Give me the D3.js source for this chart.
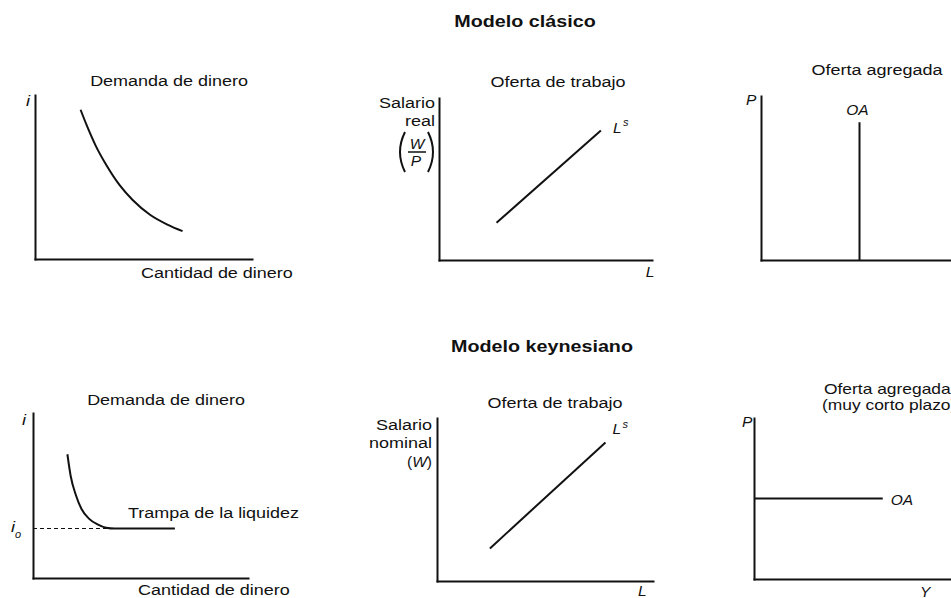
<!DOCTYPE html>
<html>
<head>
<meta charset="utf-8">
<script src="https://cdn.jsdelivr.net/npm/d3@7"></script>
<style>
  body { margin: 0; background: #fff; }
  svg { display: block; font-family: "Liberation Sans", Arial, Helvetica, sans-serif; }
</style>
</head>
<body>
<div id="chartContainer"></div>
<script>
// values, every panel runs 0-10 on both axes
const sectionTitles = ["Modelo clásico", "Modelo keynesiano"];
const panelTitles = ["Demanda  de dinero", "Oferta de trabajo", "Oferta agregada",
                     "Demanda  de dinero", "Oferta de trabajo", "Oferta agregada"];
const moneyDemandClassic = [[2.1,9.1],[2.4,8.1],[2.8,6.9],[3.3,5.7],[3.9,4.5],[4.5,3.6],[5.3,2.7],[6.1,2.1],[6.8,1.7]];
const laborSupplyClassic = [[2.7,2.3],[7.6,8.0]];
const aggSupplyClassic = [[4.95,0],[4.95,8.4]];
const moneyDemandKeynes = [[1.6,7.5],[1.75,6.2],[2.0,5.0],[2.25,4.2],[2.6,3.6],[3.0,3.25],[3.4,3.05],[3.8,3.0],[6.6,3.0]];
const liquidityTrap = [[0,3.0],[3.8,3.0]];
const laborSupplyKeynes = [[2.45,2.0],[7.8,8.5]];
const aggSupplyKeynes = [[0,5.0],[6.25,5.0]];

// where each little chart sits on the page
const panels = [
  {x0: 35,  x1: 252, y0: 259, y1: 95},
  {x0: 439, x1: 652, y0: 260, y1: 98},
  {x0: 761, x1: 960, y0: 260, y1: 96},
  {x0: 33,  x1: 248, y0: 578, y1: 413},
  {x0: 437, x1: 653, y0: 581, y1: 418},
  {x0: 754, x1: 960, y0: 579, y1: 418}
];

const svgWidth = 951;
const svgHeight = 598;
const stretch = 1.16;

const svg = d3.select("#chartContainer")
  .append("svg")
  .attr("width", svgWidth)
  .attr("height", svgHeight);

function label(x, y, txt, opts) {
  opts = opts || {};
  return svg.append("text")
    .attr("transform", `translate(${x},${y}) scale(${opts.sx || stretch},1)`)
    .attr("text-anchor", opts.anchor || "start")
    .attr("font-size", opts.size || 15.5)
    .attr("font-style", opts.italic ? "italic" : "normal")
    .attr("font-weight", opts.bold ? "bold" : "normal")
    .attr("fill", "#111")
    .text(txt);
}

function makePanel(p) {
  const x = d3.scaleLinear().domain([0, 10]).range([p.x0, p.x1]);
  const y = d3.scaleLinear().domain([0, 10]).range([p.y0, p.y1]);

  const xAxis = svg.append("g")
    .attr("transform", `translate(0,${p.y0})`)
    .call(d3.axisBottom(x).tickValues([]).tickSizeOuter(0));
  const yAxis = svg.append("g")
    .attr("transform", `translate(${p.x0},0)`)
    .call(d3.axisLeft(y).tickValues([]).tickSizeOuter(0));
  [xAxis, yAxis].forEach(a => a.select(".domain")
    .attr("stroke", "#111")
    .attr("stroke-width", 2)
    .attr("stroke-linecap", "square"));

  return {x, y};
}

function curve(sc, data, kind, dash) {
  const line = d3.line()
    .x(d => sc.x(d[0]))
    .y(d => sc.y(d[1]))
    .curve(kind || d3.curveLinear);
  svg.append("path")
    .datum(data)
    .attr("d", line)
    .attr("fill", "none")
    .attr("stroke", "#111")
    .attr("stroke-width", dash ? 1.2 : 2)
    .attr("stroke-dasharray", dash ? "4,3" : null);
}

const sc = panels.map(makePanel);

// section titles
label(525, 27, sectionTitles[0], {anchor: "middle", bold: true, size: 17});
label(542, 352, sectionTitles[1], {anchor: "middle", bold: true, size: 17});

// ---- Modelo clásico ----
curve(sc[0], moneyDemandClassic, d3.curveMonotoneX);
label(169, 86, panelTitles[0], {anchor: "middle"});
label(26, 106, "i", {italic: true});
label(141, 278, "Cantidad de dinero");

curve(sc[1], laborSupplyClassic);
label(558, 87, panelTitles[1], {anchor: "middle"});
label(435, 108, "Salario", {anchor: "end"});
label(435, 126, "real", {anchor: "end"});
label(417, 149, "W", {anchor: "middle", italic: true, sx: 1});
svg.append("line").attr("x1", 408).attr("x2", 426).attr("y1", 152).attr("y2", 152)
  .attr("stroke", "#111").attr("stroke-width", 1.5);
label(416, 166, "P", {anchor: "middle", italic: true, sx: 1});
svg.append("path").attr("d", "M405,132 Q395,152 405,172")
  .attr("fill", "none").attr("stroke", "#111").attr("stroke-width", 2);
svg.append("path").attr("d", "M428,132 Q438,152 428,172")
  .attr("fill", "none").attr("stroke", "#111").attr("stroke-width", 2);
{
  const end = laborSupplyClassic[laborSupplyClassic.length - 1];
  label(sc[1].x(end[0]) + 12, sc[1].y(end[1]) + 3, "L", {italic: true, sx: 1});
  label(sc[1].x(end[0]) + 22, sc[1].y(end[1]) - 4, "s", {italic: true, size: 11, sx: 1});
}
label(650, 277, "L", {anchor: "middle", italic: true, sx: 1});

curve(sc[2], aggSupplyClassic);
label(877, 75, panelTitles[2], {anchor: "middle"});
label(746, 105, "P", {italic: true, sx: 1});
label(sc[2].x(aggSupplyClassic[1][0]) - 2, sc[2].y(aggSupplyClassic[1][1]) - 7, "OA",
  {anchor: "middle", italic: true, sx: 1});

// ---- Modelo keynesiano ----
curve(sc[3], liquidityTrap, d3.curveLinear, true);
curve(sc[3], moneyDemandKeynes, d3.curveMonotoneX);
label(166, 405, panelTitles[3], {anchor: "middle"});
label(22, 425, "i", {italic: true});
label(11, 532, "i", {italic: true});
label(15, 538, "o", {italic: true, size: 11, sx: 1});
label(128, 518, "Trampa de la liquidez");
label(138, 595, "Cantidad de dinero");

curve(sc[4], laborSupplyKeynes);
label(555, 408, panelTitles[4], {anchor: "middle"});
label(432, 430, "Salario", {anchor: "end"});
label(432, 448, "nominal", {anchor: "end"});
const wLab = label(432, 467, "", {anchor: "end", sx: 1});
wLab.append("tspan").text("(");
wLab.append("tspan").attr("font-style", "italic").text("W");
wLab.append("tspan").text(")");
{
  const end = laborSupplyKeynes[laborSupplyKeynes.length - 1];
  label(sc[4].x(end[0]) + 7, sc[4].y(end[1]) - 8, "L", {italic: true, sx: 1});
  label(sc[4].x(end[0]) + 17, sc[4].y(end[1]) - 14, "s", {italic: true, size: 11, sx: 1});
}
label(638, 596, "L", {italic: true, sx: 1});

curve(sc[5], aggSupplyKeynes);
label(824, 394, panelTitles[5], {size: 15});
label(822, 410, "(muy corto plazo)", {size: 15});
label(742, 427, "P", {italic: true, sx: 1});
label(sc[5].x(aggSupplyKeynes[1][0]) + 8, sc[5].y(aggSupplyKeynes[1][1]) + 6, "OA",
  {italic: true, sx: 1});
label(920, 597, "Y", {italic: true, sx: 1});
</script>
</body>
</html>
